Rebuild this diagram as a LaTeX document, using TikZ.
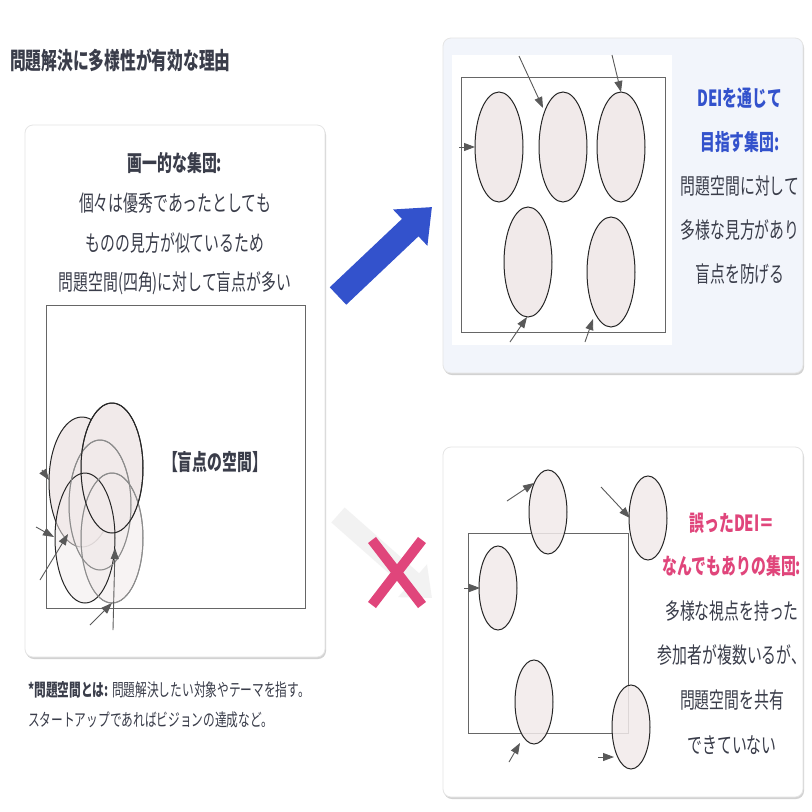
\documentclass[tikz,border=0pt]{standalone}
\usepackage{fontspec}
\usepackage{graphicx}
\setmainfont{Noto Sans CJK JP}
\usetikzlibrary{shadows,arrows.meta}
\definecolor{ink}{HTML}{3A3D4A}
\definecolor{dblue}{HTML}{3352CC}
\definecolor{dpink}{HTML}{E0457B}
\definecolor{efill}{HTML}{F1EAEA}
\definecolor{cardbg}{HTML}{F2F5FB}
\newcommand{\tl}[1]{\scalebox{0.9}[1.35]{#1}}
\tikzset{
 card/.style={draw=black!10,line width=0.8pt,rounded corners=8pt,drop shadow={shadow xshift=1pt,shadow yshift=-2pt,opacity=0.35}},
 space/.style={draw=black!60,line width=0.9pt},
 ell/.style={draw=black!85,line width=1pt,fill=efill},
 gell/.style={draw=black!45,line width=1pt,fill=efill,fill opacity=0.55},
 arr/.style={draw=black!65,line width=0.9pt,-{Triangle[length=11pt,width=8pt]}},
 txt/.style={text=ink,font=\fontsize{16.5}{18}\selectfont,inner sep=0pt},
 btxt/.style={txt,font=\fontsize{16.5}{18}\selectfont\bfseries},
}
\begin{document}
\begin{tikzpicture}[x=1pt,y=-1pt]
\useasboundingbox (0,0) rectangle (812,812);
\fill[white] (0,0) rectangle (812,812);
\node[btxt,anchor=west,font=\fontsize{17.5}{18}\selectfont\bfseries] (title) at (10,60) {\tl{問題解決に多様性が有効な理由}};
% left card
\path[card,fill=white] (25,125) rectangle (325,657);
\node[btxt] (l1) at (175,163) {\tl{画一的な集団:}};
\node[txt] (l2) at (175,203) {\tl{個々は優秀であったとしても}};
\node[txt] (l3) at (175,243) {\tl{ものの見方が似ているため}};
\node[txt] (l4) at (175,283) {\tl{問題空間(四角)に対して盲点が多い}};
\draw[space] (46,305) rectangle (305,608);
\node[btxt] (blind) at (215,462) {\tl{【盲点の空間】}};
\draw[ell] (82,482) ellipse (33 and 65);
\draw[ell] (112,468) ellipse (31 and 65);
\draw[gell] (100,505) ellipse (31 and 65);
\draw[gell] (112,538) ellipse (31 and 65);
\draw[ell,fill opacity=0.5] (85,538) ellipse (30 and 65);
\draw[gell,fill=none] (100,505) ellipse (31 and 65);
\draw[gell,fill=none] (112,538) ellipse (31 and 65);
\draw[ell,fill=none] (112,468) ellipse (31 and 65);
\coordinate (la1) at (42,470); \coordinate (lb1) at (49,480);
\coordinate (la2) at (36,527); \coordinate (lb2) at (54,537);
\coordinate (la3) at (40,580); \coordinate (lb3) at (68,534);
\coordinate (la4) at (90,625); \coordinate (lb4) at (112,603);
\coordinate (la5) at (113,630); \coordinate (lb5) at (115,548);
\foreach \i in {1,...,5} \draw[arr] (la\i) -- (lb\i);
% footnote
\node[txt,anchor=west,font=\fontsize{13}{14}\selectfont] (f1) at (28,690) {\tl{\textbf{*問題空間とは:} 問題解決したい対象やテーマを指す。}};
\node[txt,anchor=west,font=\fontsize{13}{14}\selectfont] (f2) at (28,720) {\tl{スタートアップであればビジョンの達成など。}};
% blue arrow
\coordinate (bs) at (338,296); \coordinate (be) at (432,207);
\draw[dblue,line width=24pt,-{Triangle[length=30pt,width=48pt]}] (bs) -- (be);
% faint gray arrow and X
\coordinate (gs) at (338,515); \coordinate (ge) at (432,598);
\draw[black!5,line width=20pt,-{Triangle[length=26pt,width=42pt]}] (gs) -- (ge);
\draw[dpink,line width=10pt] (372,540) -- (422,605) (422,540) -- (372,605);
% top right card
\path[card,fill=cardbg] (443,38) rectangle (803,373);
\fill[white] (452,55) rectangle (672,345);
\draw[space] (461,77) rectangle (665,332);
\foreach \c in {(499,147),(563,147),(621,147),(528,262),(611,272)}
  \draw[ell] \c ellipse (24 and 55);
\coordinate (ta1) at (459,147); \coordinate (tb1) at (475,147);
\coordinate (ta2) at (519,56); \coordinate (tb2) at (543,108);
\coordinate (ta3) at (612,55); \coordinate (tb3) at (621,92);
\coordinate (ta4) at (510,342); \coordinate (tb4) at (527,317);
\coordinate (ta5) at (585,342); \coordinate (tb5) at (593,319);
\foreach \i in {1,...,5} \draw[arr] (ta\i) -- (tb\i);
\node[btxt,text=dblue] (r1) at (740,98) {\tl{DEIを通じて}};
\node[btxt,text=dblue] (r2) at (740,142) {\tl{目指す集団:}};
\node[txt] (r3) at (740,186) {\tl{問題空間に対して}};
\node[txt] (r4) at (740,230) {\tl{多様な見方があり}};
\node[txt] (r5) at (740,274) {\tl{盲点を防げる}};
% bottom right card
\path[card,fill=white] (443,447) rectangle (803,797);
\draw[space] (468,533) rectangle (628,733);
\foreach \c in {(548,512),(648,518),(498,588),(534,702),(631,727)}
  \draw[ell,fill opacity=0.85] \c ellipse (19 and 42);
\coordinate (ba1) at (507,501); \coordinate (bb1) at (534,483);
\coordinate (ba2) at (601,487); \coordinate (bb2) at (630,518);
\coordinate (ba3) at (464,588); \coordinate (bb3) at (480,588);
\coordinate (ba4) at (509,762); \coordinate (bb4) at (520,743);
\coordinate (ba5) at (598,757); \coordinate (bb5) at (614,757);
\foreach \i in {1,...,5} \draw[arr] (ba\i) -- (bb\i);
\node[btxt,text=dpink] (s1) at (732,523) {\tl{誤ったDEI＝}};
\node[btxt,text=dpink] (s2) at (732,566) {\tl{なんでもありの集団:}};
\node[txt] (s3) at (732,611) {\tl{多様な視点を持った}};
\node[txt] (s4) at (732,655) {\tl{参加者が複数いるが、}};
\node[txt] (s5) at (732,700) {\tl{問題空間を共有}};
\node[txt] (s6) at (732,745) {\tl{できていない}};
\end{tikzpicture}
\end{document}
